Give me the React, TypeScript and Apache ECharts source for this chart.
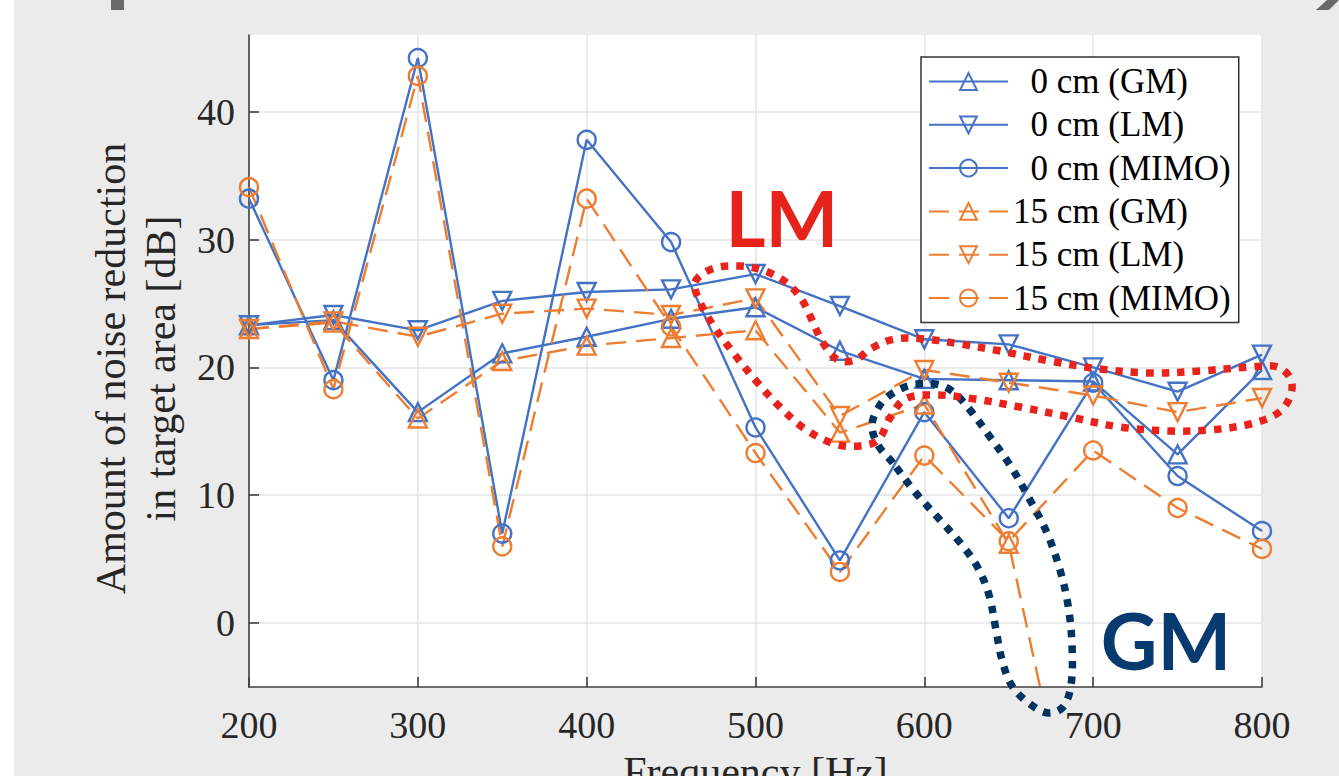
import React, { useEffect, useRef } from "react";
import * as echarts from "echarts";

const frequencies = [200, 250, 300, 350, 400, 450, 500, 550, 600, 650, 700, 750, 800];
const gm0 = [23.3, 23.7, 16.5, 21.1, 22.4, 23.8, 24.7, 21.3, 19.1, 19.0, 18.9, 13.2, 19.8];
const lm0 = [23.3, 24.1, 22.9, 25.2, 25.9, 26.1, 27.3, 24.8, 22.2, 21.8, 20.0, 18.1, 21.0];
const mimo0 = [33.2, 19.0, 44.2, 7.0, 37.8, 29.8, 15.3, 4.9, 16.5, 8.2, 18.8, 11.5, 7.2];
const gm15 = [23.0, 23.5, 16.0, 20.5, 21.7, 22.3, 22.9, 14.9, 17.1, 6.2, -24, -20, -20];
const lm15 = [23.0, 23.6, 22.4, 24.2, 24.6, 24.1, 25.4, 16.2, 19.8, 18.8, 17.8, 16.5, 17.6];
const mimo15 = [34.1, 18.3, 42.8, 6.0, 33.2, 23.2, 13.3, 4.0, 13.1, 6.4, 13.5, 9.0, 5.8];

const seriesNames = ["  0 cm (GM)", "  0 cm (LM)", "  0 cm (MIMO)", "15 cm (GM)", "15 cm (LM)", "15 cm (MIMO)"];
const yTicks = [0, 10, 20, 30, 40];
const xTicks = [200, 300, 400, 500, 600, 700, 800];

const BLUE = "#4472C4";
const ORANGE = "#ED7D31";
const SERIF = "'Liberation Serif', 'Times New Roman', serif";

const lmLoop = [
  [695, 282], [712, 269], [740, 266], [765, 271], [787, 283], [802, 300], [812, 320], [823, 343],
  [838, 360], [855, 360], [872, 348], [895, 339], [925, 339], [960, 344], [1000, 351], [1050, 361],
  [1100, 369], [1150, 373], [1200, 371], [1250, 367], [1278, 367], [1291, 380], [1290, 397],
  [1278, 413], [1250, 424], [1210, 430], [1170, 431], [1120, 427], [1070, 417], [1020, 407],
  [975, 399], [935, 395], [905, 399], [890, 418], [878, 440], [860, 446], [835, 444], [805, 429],
  [780, 407], [757, 382], [735, 355], [713, 325], [699, 300],
];
const gmLoop = [
  [893, 463], [878, 445], [872, 425], [880, 405], [893, 393], [912, 385], [935, 384], [952, 391],
  [970, 410], [990, 437], [1010, 465], [1030, 500], [1047, 533], [1060, 570], [1068, 605],
  [1072, 645], [1071, 685], [1063, 707], [1048, 713], [1030, 704], [1012, 686], [1002, 660],
  [996, 630], [989, 595], [978, 568], [962, 545], [940, 520], [915, 492],
];

function pairs(vals: number[]) {
  return frequencies.map((f, i) => [f, vals[i]]);
}

export default function App() {
  const ref = useRef<HTMLDivElement>(null);
  useEffect(() => {
    if (!ref.current) return;
    const chart = echarts.init(ref.current, null, { renderer: "svg" });
    const mk = (name: string, vals: number[], color: string, symbol: string, rot: number, dashed: boolean) => ({
      name,
      type: "line",
      data: pairs(vals),
      symbol,
      symbolSize: 18,
      symbolRotate: rot,
      showAllSymbol: true,
      clip: true,
      lineStyle: { color, width: 2.4, type: dashed ? [20, 10] : "solid" },
      itemStyle: { color: "transparent", borderColor: color, borderWidth: 2.4 },
      emphasis: { disabled: true },
      z: 3,
    });
    chart.setOption({
      animation: false,
      backgroundColor: "#ebebeb",
      grid: {
        left: 249,
        top: 35,
        width: 1013,
        height: 652,
        show: true,
        backgroundColor: "#ffffff",
        borderWidth: 0,
        containLabel: false,
        outerBoundsMode: "none",
      },
      xAxis: {
        type: "value",
        min: 200,
        max: 800,
        interval: 100,
        name: "Frequency [Hz]",
        nameLocation: "middle",
        nameGap: 64,
        nameTextStyle: { fontFamily: SERIF, fontSize: 42, color: "#262626" },
        axisLine: { show: true, onZero: false, lineStyle: { color: "#404040", width: 1.6 } },
        axisTick: { show: true, inside: true, length: 10, lineStyle: { color: "#404040", width: 1.6 } },
        axisLabel: { fontFamily: SERIF, fontSize: 38, color: "#262626", margin: 19, customValues: xTicks },
        splitLine: { show: true, lineStyle: { color: "#e4e4e4", width: 1.5 } },
      },
      yAxis: {
        type: "value",
        min: -5,
        max: 46,
        name: "Amount of noise reduction\nin target area [dB]",
        nameLocation: "middle",
        nameRotate: 90,
        nameGap: 56,
        nameTextStyle: { fontFamily: SERIF, fontSize: 42, color: "#262626", lineHeight: 50, padding: [0, 15, 0, 0] },
        axisLine: { show: true, onZero: false, lineStyle: { color: "#404040", width: 1.6 } },
        axisTick: { show: true, inside: true, length: 10, customValues: yTicks, lineStyle: { color: "#404040", width: 1.6 } },
        axisLabel: { fontFamily: SERIF, fontSize: 38, color: "#262626", margin: 14, customValues: yTicks },
        splitLine: { show: true, lineStyle: { color: "#e4e4e4", width: 1.5 } },
      },
      legend: {
        orient: "vertical",
        left: 921,
        top: 57,
        padding: [7, 8, 7, 7],
        itemWidth: 79,
        itemHeight: 21,
        itemGap: 8.3,
        backgroundColor: "#ffffff",
        borderColor: "#333333",
        borderWidth: 1.5,
        selectedMode: false,
        textStyle: { fontFamily: SERIF, fontSize: 35, color: "#000000", lineHeight: 34 },
        data: seriesNames,
        z: 10,
      },
      graphic: [
        { type: "rect", shape: { x: 0, y: 0, width: 14, height: 776 }, style: { fill: "#ffffff" }, z: 0, silent: true },
        { type: "rect", shape: { x: 111, y: 0, width: 13, height: 10 }, style: { fill: "#6a6a6a" }, z: 0, silent: true },
        { type: "polygon", shape: { points: [[1327, 0], [1339, 0], [1329, 10], [1316, 10]] }, style: { fill: "#6a6a6a" }, z: 0, silent: true },
        {
          type: "polygon",
          shape: { points: gmLoop, smooth: 0.35 },
          style: { fill: "none", stroke: "#00335f", lineWidth: 7.5, lineDash: [7.5, 8] },
          z: 50,
          silent: true,
        },
        {
          type: "polygon",
          shape: { points: lmLoop, smooth: 0.35 },
          style: { fill: "none", stroke: "#e8231c", lineWidth: 7.5, lineDash: [7.5, 8] },
          z: 51,
          silent: true,
        },
        {
          type: "text",
          x: 782,
          y: 217,
          style: { text: "LM", fontFamily: "Lato", fontWeight: "bold", fontSize: 77, fill: "#e5231b", textAlign: "center", textVerticalAlign: "middle" },
          z: 52,
        },
        {
          type: "text",
          x: 1166,
          y: 640,
          style: { text: "GM", fontFamily: "Lato", fontWeight: "bold", fontSize: 78, fill: "#073a6e", textAlign: "center", textVerticalAlign: "middle" },
          z: 52,
        },
      ],
      series: [
        mk(seriesNames[0], gm0, BLUE, "triangle", 0, false),
        mk(seriesNames[1], lm0, BLUE, "triangle", 180, false),
        mk(seriesNames[2], mimo0, BLUE, "circle", 0, false),
        mk(seriesNames[3], gm15, ORANGE, "triangle", 0, true),
        mk(seriesNames[4], lm15, ORANGE, "triangle", 180, true),
        mk(seriesNames[5], mimo15, ORANGE, "circle", 0, true),
      ],
    });
    return () => chart.dispose();
  }, []);
  return <div ref={ref} style={{ position: "fixed", left: 0, top: 0, width: 1339, height: 776 }} />;
}
